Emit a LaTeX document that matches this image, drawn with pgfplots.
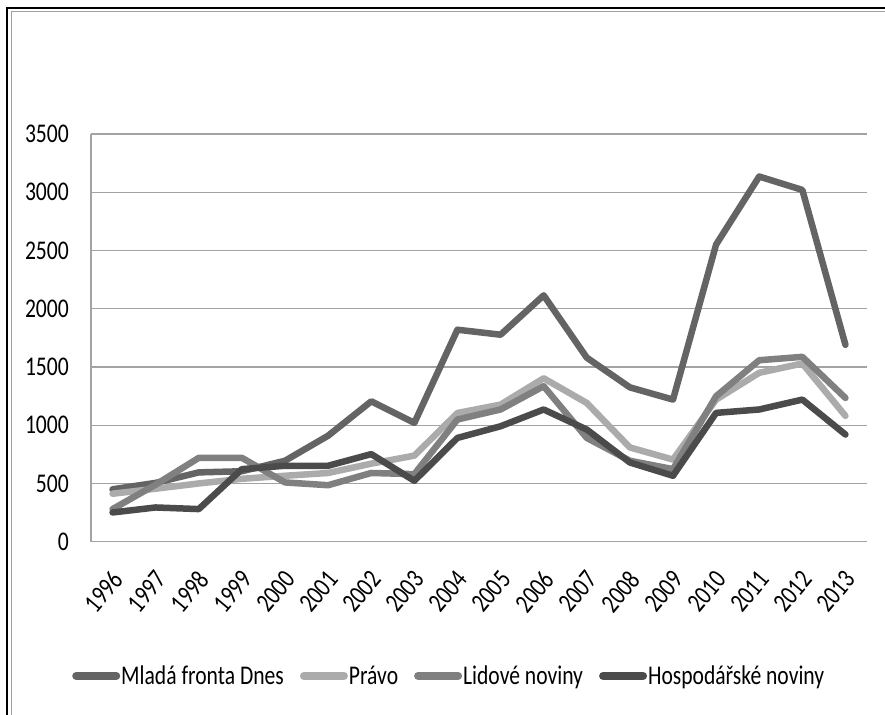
\documentclass[border=0pt]{standalone}
\usepackage{fontspec}
\setmainfont{Carlito}[FakeStretch=0.8]
\usepackage{pgfplots}
\pgfplotsset{compat=1.18}

\definecolor{mfd}{HTML}{646464}
\definecolor{pravo}{HTML}{ABABAB}
\definecolor{lidove}{HTML}{808080}
\definecolor{hosp}{HTML}{4B4B4B}
\definecolor{gridgray}{HTML}{A3A3A3}

\begin{document}
\begin{tikzpicture}
% frame of the figure box
\draw[black, line width=2.2bp] (7bp,-720bp) -- (7bp,-8bp) -- (890bp,-8bp);
\draw[gray!75, line width=1.5bp] (11.5bp,-720bp) -- (11.5bp,-11.5bp) -- (890bp,-11.5bp);

\begin{axis}[
    at={(91bp,-541.7bp)}, anchor=south west,
    scale only axis, width=776bp, height=407.7bp,
    xmin=1995.5, xmax=2013.5,
    ymin=0, ymax=3500,
    axis lines=left,
    axis line style={-, draw=gridgray, line width=1.2bp},
    xtick={1996,1997,...,2013},
    ytick={0,500,...,3500},
    ymajorgrids,
    grid style={draw=gridgray, line width=1.2bp},
    major tick length=0pt,
    tick style={draw=none},
    /pgf/number format/assume math mode=true,
    /pgf/number format/1000 sep={},
    every tick label/.append style={font=\fontsize{27bp}{30bp}\selectfont},
    yticklabel style={anchor=east, inner sep=0pt, xshift=-22bp},
    xticklabel style={xshift=5bp, yshift=-33bp, rotate=50, anchor=east, inner sep=0pt},
    legend columns=4,
    legend cell align=left,
    legend style={at={(0.461,-0.329)}, anchor=center, draw=none,
        font=\fontsize{27bp}{30bp}\selectfont,
        nodes={inner sep=1bp},
        /tikz/every even column/.append style={column sep=15bp}},
    legend image code/.code={\draw[line width=8bp, line cap=round] (4bp,0bp) -- (44bp,0bp);},
    every axis plot/.append style={line width=6.5bp, line join=round, line cap=round},
]

\addplot[mfd] coordinates {
    (1996,450) (1997,505) (1998,595) (1999,605) (2000,695) (2001,910)
    (2002,1205) (2003,1020) (2004,1820) (2005,1777) (2006,2115) (2007,1580)
    (2008,1325) (2009,1220) (2010,2551) (2011,3135) (2012,3020) (2013,1690)
};
\addlegendentry{Mladá fronta Dnes}

\addplot[pravo] coordinates {
    (1996,412) (1997,455) (1998,500) (1999,540) (2000,566) (2001,590)
    (2002,670) (2003,739) (2004,1105) (2005,1177) (2006,1403) (2007,1191)
    (2008,809) (2009,705) (2010,1220) (2011,1450) (2012,1530) (2013,1080)
};
\addlegendentry{Právo}

\addplot[lidove] coordinates {
    (1996,280) (1997,490) (1998,720) (1999,720) (2000,509) (2001,485)
    (2002,590) (2003,580) (2004,1049) (2005,1135) (2006,1335) (2007,891)
    (2008,695) (2009,623) (2010,1249) (2011,1558) (2012,1587) (2013,1234)
};
\addlegendentry{Lidové noviny}

\addplot[hosp] coordinates {
    (1996,251) (1997,294) (1998,280) (1999,623) (2000,652) (2001,652)
    (2002,752) (2003,523) (2004,891) (2005,991) (2006,1135) (2007,963)
    (2008,680) (2009,566) (2010,1106) (2011,1135) (2012,1220) (2013,920)
};
\addlegendentry{Hospodářské noviny}

\end{axis}
\pgfresetboundingbox
\useasboundingbox (0bp,0bp) rectangle (885bp,-715bp);
\end{tikzpicture}
\end{document}
